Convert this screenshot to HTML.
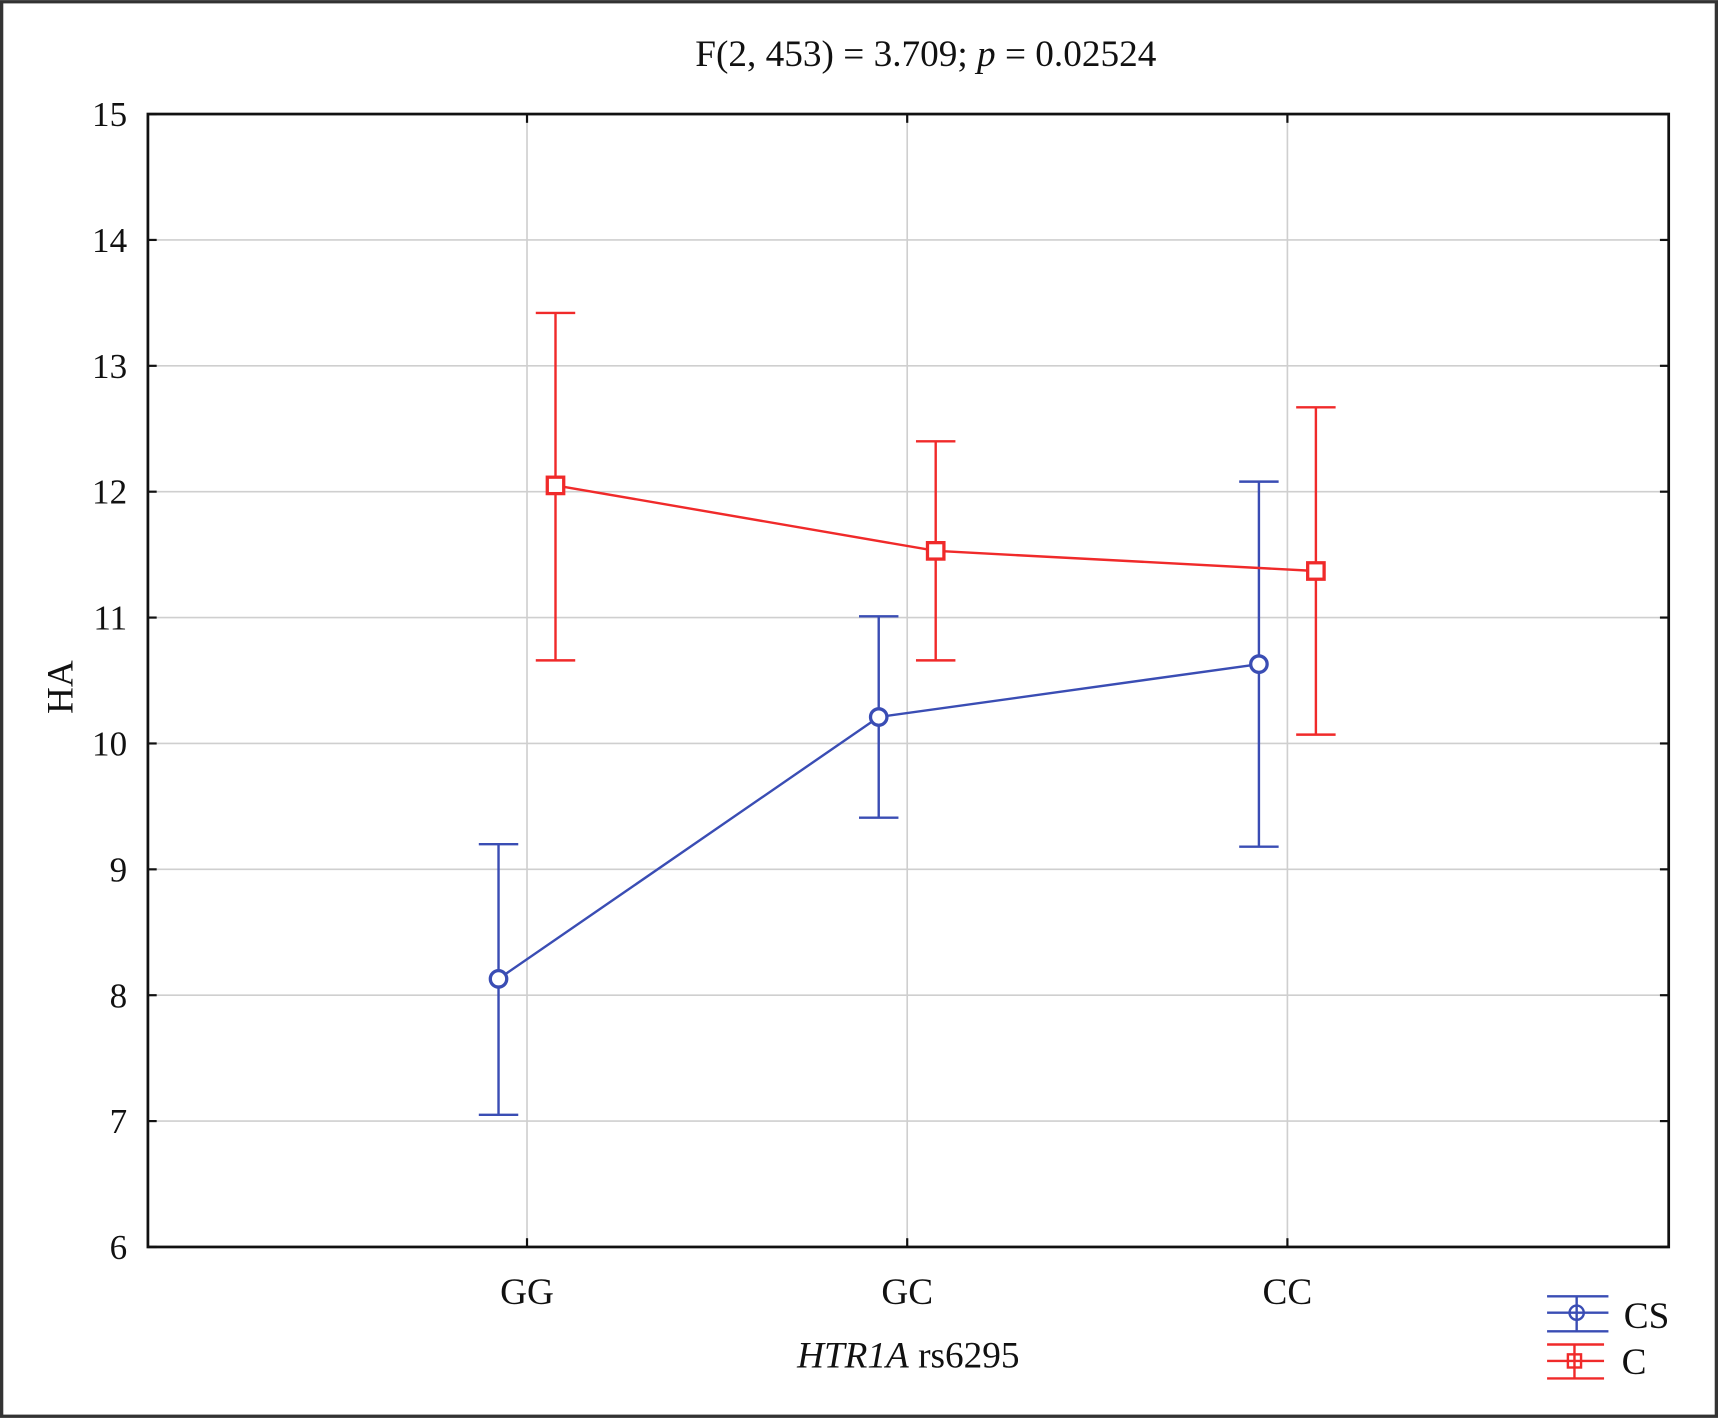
<!DOCTYPE html>
<html><head><meta charset="utf-8"><style>
html,body{margin:0;padding:0;background:#fff;}
svg{display:block;}
text{font-family:"Liberation Serif",serif;fill:#111;}
</style></head><body>
<svg id="chart" width="1718" height="1418" viewBox="0 0 1568 1294" xmlns="http://www.w3.org/2000/svg">
<rect x="1.5" y="1.5" width="1565" height="1291" fill="#fff" stroke="#333" stroke-width="3"/>
<text x="845" y="60" font-size="34" text-anchor="middle">F(2, 453) = 3.709; <tspan font-style="italic">p</tspan> = 0.02524</text>
<g id="grid"></g>
<g id="axes"></g>
<g id="series"></g>
<text x="0" y="0" font-size="34" text-anchor="middle" transform="translate(66,627) rotate(-90)">HA</text>
<text x="829" y="1248" font-size="34" text-anchor="middle"><tspan font-style="italic">HTR1A</tspan> rs6295</text>
<g>
  <g stroke="#3a4db4" stroke-width="2.2" fill="none">
    <line x1="1412" y1="1183" x2="1468" y2="1183"/><line x1="1412" y1="1198" x2="1468" y2="1198"/><line x1="1412" y1="1215" x2="1468" y2="1215"/>
    <line x1="1439" y1="1183" x2="1439" y2="1215"/><circle cx="1439" cy="1198" r="6.5"/>
  </g>
  <text x="1482" y="1212" font-size="34">CS</text>
  <g stroke="#f02a2a" stroke-width="2.2" fill="none">
    <line x1="1412" y1="1227" x2="1464" y2="1227"/><line x1="1412" y1="1242" x2="1464" y2="1242"/><line x1="1412" y1="1258" x2="1464" y2="1258"/>
    <line x1="1437" y1="1227" x2="1437" y2="1258"/><rect x="1431" y="1236" width="12" height="12"/>
  </g>
  <text x="1480" y="1254" font-size="34">C</text>
</g>
</svg>
<script>
const categories = ["GG","GC","CC"];
const csMean = [8.13, 10.21, 10.63];
const csLow = [7.05, 9.41, 9.18];
const csHigh = [9.20, 11.01, 12.08];
const cMean = [12.05, 11.53, 11.37];
const cLow = [10.66, 10.66, 10.07];
const cHigh = [13.42, 12.40, 12.67];
const yTicks = [6,7,8,9,10,11,12,13,14,15];

const NS = "http://www.w3.org/2000/svg";
const L = 135, R = 1523, T = 104, B = 1138;
const yMin = 6, yMax = 15;
function yScale(v){ return B - (v - yMin) / (yMax - yMin) * (B - T); }
const catStart = 481, catStep = 347;
function xScale(i){ return catStart + i * catStep; }
function mk(tag, attrs, parent){
  const el = document.createElementNS(NS, tag);
  for (const k in attrs) el.setAttribute(k, attrs[k]);
  parent.appendChild(el);
  return el;
}
const grid = document.getElementById("grid");
const axes = document.getElementById("axes");
const series = document.getElementById("series");

yTicks.forEach(t => {
  const y = yScale(t);
  if (t > yMin && t < yMax) {
    const g = mk("line", {x1:L, x2:R, y1:y, y2:y, stroke:"#cfcfcf", "stroke-width":1.5}, grid);
    
    
  }
  const tk = mk("line", {x1:L, x2:L+8, y1:y, y2:y, stroke:"#111", "stroke-width":2}, axes);
  
  
  const tk2 = mk("line", {x1:R-8, x2:R, y1:y, y2:y, stroke:"#111", "stroke-width":2}, axes);
  
  
  const lb = mk("text", {x:116, y:y+11, "font-size":32, "text-anchor":"end"}, axes);
  lb.textContent = t;
  
  
});
categories.forEach((c, i) => {
  const x = xScale(i);
  const g = mk("line", {x1:x, x2:x, y1:T, y2:B, stroke:"#cfcfcf", "stroke-width":1.5}, grid);
  
  
  const tk = mk("line", {x1:x, x2:x, y1:B-8, y2:B, stroke:"#111", "stroke-width":2}, axes);
  
  
  const tk2 = mk("line", {x1:x, x2:x, y1:T, y2:T+8, stroke:"#111", "stroke-width":2}, axes);
  
  
  const lb = mk("text", {x:x, y:1190, "font-size":34, "text-anchor":"middle"}, axes);
  lb.textContent = c;
  
  
});
const frame = mk("rect", {x:L, y:T, width:R-L, height:B-T, fill:"none", stroke:"#111", "stroke-width":2.5}, axes);



function drawSeries(name, mean, lo, hi, color, off, marker){
  const g = mk("g", {stroke:color, "stroke-width":2.2, fill:"none"}, series);
  
  
  const pts = mean.map((v,i) => (xScale(i)+off) + "," + yScale(v)).join(" ");
  const pl = mk("polyline", {points:pts}, g);
  
  
  mean.forEach((v,i) => {
    const x = xScale(i) + off;
    const eb = mk("path", {d:`M${x-18},${yScale(hi[i])}H${x+18}M${x},${yScale(hi[i])}V${yScale(lo[i])}M${x-18},${yScale(lo[i])}H${x+18}`}, g);
    
    
    let m;
    if (marker === "circle") m = mk("circle", {cx:x, cy:yScale(v), r:7.5, fill:"#fff", "stroke-width":3}, g);
    else m = mk("rect", {x:x-7.5, y:yScale(v)-7.5, width:15, height:15, fill:"#fff", "stroke-width":3}, g);
    
    
  });
}
drawSeries("cs", csMean, csLow, csHigh, "#3a4db4", -26, "circle");
drawSeries("c", cMean, cLow, cHigh, "#f02a2a", 26, "square");
</script>
</body></html>
